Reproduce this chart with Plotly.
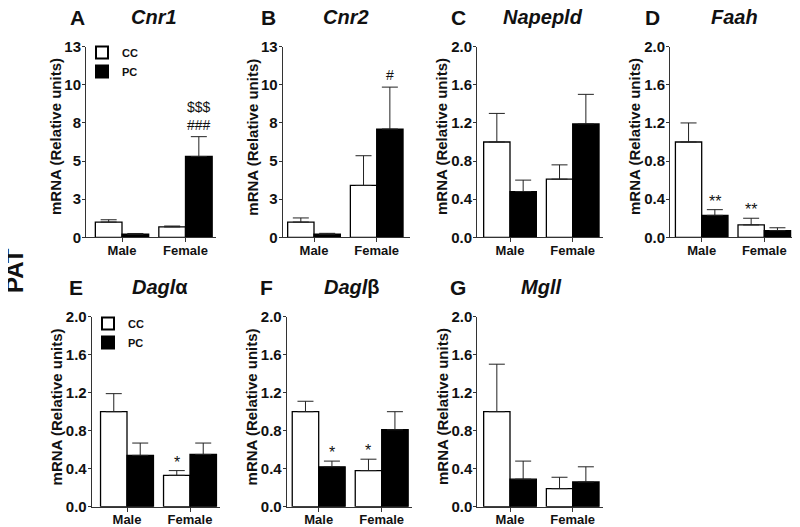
import plotly.graph_objects as go

W, H = 800, 527
OFF = 8  # page body margin of the html page, compensated here
FONT = "Liberation Sans, Arial, sans-serif"

sexes = ["Male", "Female"]
groups = ["CC", "PC"]

genes = ["Cnr1", "Cnr2", "Napepld", "Faah", "Dagla", "Daglb", "Mgll"]
letters = ["A", "B", "C", "D", "E", "F", "G"]
titles = ["<b><i>Cnr1</i></b>", "<b><i>Cnr2</i></b>", "<b><i>Napepld</i></b>", "<b><i>Faah</i></b>",
          "<b><i>Dagl</i>α</b>", "<b><i>Dagl</i>β</b>", "<b><i>Mgll</i></b>"]

cc_mean = {
    "Cnr1": [1.0, 0.68], "Cnr2": [1.0, 3.4], "Napepld": [1.0, 0.61], "Faah": [1.0, 0.13],
    "Dagla": [1.0, 0.33], "Daglb": [1.0, 0.38], "Mgll": [1.0, 0.19],
}
cc_sem = {
    "Cnr1": [0.15, 0.06], "Cnr2": [0.27, 1.95], "Napepld": [0.30, 0.15], "Faah": [0.20, 0.07],
    "Dagla": [0.19, 0.05], "Daglb": [0.11, 0.12], "Mgll": [0.50, 0.12],
}
pc_mean = {
    "Cnr1": [0.2, 5.3], "Cnr2": [0.2, 7.1], "Napepld": [0.48, 1.19], "Faah": [0.23, 0.07],
    "Dagla": [0.54, 0.55], "Daglb": [0.42, 0.81], "Mgll": [0.29, 0.26],
}
pc_sem = {
    "Cnr1": [0.05, 1.3], "Cnr2": [0.06, 2.75], "Napepld": [0.12, 0.31], "Faah": [0.06, 0.03],
    "Dagla": [0.13, 0.12], "Daglb": [0.06, 0.19], "Mgll": [0.19, 0.16],
}

big_ticks = [0, 2.5, 5, 7.5, 10, 12.5]
big_ticktext = ["0", "3", "5", "8", "10", "13"]
small_ticks = [0, 0.4, 0.8, 1.2, 1.6, 2.0]
small_ticktext = ["0.0", "0.4", "0.8", "1.2", "1.6", "2.0"]

# significance marks: (gene, sex index, group, text lines)
marks = [
    ("Cnr1", 1, "PC", ["$$$", "###"]),
    ("Cnr2", 1, "PC", ["#"]),
    ("Faah", 0, "PC", ["**"]),
    ("Faah", 1, "CC", ["**"]),
    ("Dagla", 1, "CC", ["*"]),
    ("Daglb", 0, "PC", ["*"]),
    ("Daglb", 1, "CC", ["*"]),
]


def px(p):
    return (p - OFF) / W


def py(p):
    return 1 - (p - OFF) / H


# layout in pixels: (axis x, male centre, female centre, right edge, row)
panels = [
    (86, 122, 185.5, 216, 0),
    (282.7, 314, 376.7, 410, 0),
    (477, 510, 572.7, 603, 0),
    (670, 701.7, 764.3, 795, 0),
    (91.7, 127, 190, 220, 1),
    (286.7, 318.7, 381.7, 412, 1),
    (477.3, 510, 572.7, 603, 1),
]
rows_px = [(46.7, 237.3), (316.7, 506.7)]
letter_pos = [(77, 17), (268, 17), (458, 17), (652, 17), (76, 287), (266, 287), (458, 287)]
title_pos = [(154, 17), (346, 17), (543, 17), (734, 17), (160, 287), (352, 287), (541, 287)]

fig = go.Figure()
annotations = []

for i, g in enumerate(genes):
    ax_x, mc, fc, right, row = panels[i]
    unit = fc - mc
    r0 = (ax_x - mc) / unit
    r1 = (right - mc) / unit
    top_px, bot_px = rows_px[row]
    xa = "xaxis" if i == 0 else f"xaxis{i+1}"
    ya = "yaxis" if i == 0 else f"yaxis{i+1}"
    xr = "x" if i == 0 else f"x{i+1}"
    yr = "y" if i == 0 else f"y{i+1}"
    big = g in ("Cnr1", "Cnr2")
    leg = None
    if i == 0:
        leg = "legend"
    elif i == 4:
        leg = "legend2"
    for grp, means, sems, col in (("CC", cc_mean, cc_sem, "white"), ("PC", pc_mean, pc_sem, "black")):
        fig.add_trace(go.Bar(
            x=sexes, y=means[g], name=grp, xaxis=xr, yaxis=yr,
            marker=dict(color=col, line=dict(color="black", width=1.3)),
            error_y=dict(type="data", symmetric=False, array=sems[g], arrayminus=[0, 0],
                         color="#222", thickness=1, width=8),
            showlegend=leg is not None, legend=leg if leg else "legend",
        ))
    fig.layout[xa] = dict(
        domain=[px(ax_x), px(right)], range=[r0, r1], type="category", anchor=yr,
        showline=True, linecolor="#333", linewidth=1, ticks="outside", ticklen=4,
        tickcolor="#333", showgrid=False, zeroline=False, automargin=False,
        ticklabelstandoff=-3,
        tickfont=dict(family=FONT, size=13, color="#111", weight="bold"),
    )
    fig.layout[ya] = dict(
        domain=[py(bot_px), py(top_px)], anchor=xr,
        range=[0, 12.5] if big else [0, 2.0],
        tickvals=big_ticks if big else small_ticks,
        ticktext=big_ticktext if big else small_ticktext,
        showline=True, linecolor="#333", linewidth=1, ticks="outside", ticklen=3,
        tickcolor="#333", showgrid=False, zeroline=False, automargin=False,
        ticklabelstandoff=-2,
        tickfont=dict(family=FONT, size=15, color="#111", weight="bold"),
    )
    annotations.append(dict(
        text="mRNA (Relative units)", textangle=-90, xref="paper", yref="paper",
        x=px(ax_x - (30 if big else 35)), y=py((top_px + bot_px) / 2 - 5), showarrow=False,
        xanchor="center", yanchor="middle",
        font=dict(family=FONT, size=15, color="#111", weight="bold"),
    ))
    lx, ly = letter_pos[i]
    annotations.append(dict(text="<b>%s</b>" % letters[i], xref="paper", yref="paper",
                            x=px(lx), y=py(ly), showarrow=False, borderpad=0,
                            xanchor="center", yanchor="middle",
                            font=dict(family=FONT, size=21, color="#111")))
    tx, ty = title_pos[i]
    annotations.append(dict(text=titles[i], xref="paper", yref="paper",
                            x=px(tx), y=py(ty), showarrow=False, borderpad=0,
                            xanchor="center", yanchor="middle",
                            font=dict(family=FONT, size=20, color="#111")))
    for (mg, si, grp, lines) in marks:
        if mg != g:
            continue
        off = -0.21 if grp == "CC" else 0.21
        means = cc_mean if grp == "CC" else pc_mean
        sems = cc_sem if grp == "CC" else pc_sem
        yv = means[g][si] + sems[g][si]
        star = lines[0].startswith("*")
        annotations.append(dict(
            text="<br>".join(lines), xref=xr, yref=yr, x=si + off, y=yv,
            xanchor="center", yanchor="bottom", showarrow=False,
            yshift=-2 if star else 2,
            font=dict(family=FONT, size=16 if star else 14, color="#111"),
        ))

annotations.append(dict(text="<b>PAT</b>", textangle=-90, xref="paper", yref="paper",
                        x=px(14), y=py(271), showarrow=False,
                        xanchor="center", yanchor="middle",
                        font=dict(family=FONT, size=24, color="#111")))

legend_common = dict(font=dict(family=FONT, size=11, color="#111", weight="bold"),
                     bgcolor="rgba(0,0,0,0)", itemwidth=30, tracegroupgap=0,
                     xanchor="left", yanchor="top", itemsizing="constant")
fig.update_layout(
    width=W, height=H, margin=dict(l=0, r=0, t=0, b=0, autoexpand=False),
    paper_bgcolor="white", plot_bgcolor="white",
    barmode="group", bargap=0.16, bargroupgap=0,
    annotations=annotations,
    legend=dict(x=px(82), y=py(38), **legend_common),
    legend2=dict(x=px(88), y=py(309), **legend_common),
)

fig.write_html("out.html")
